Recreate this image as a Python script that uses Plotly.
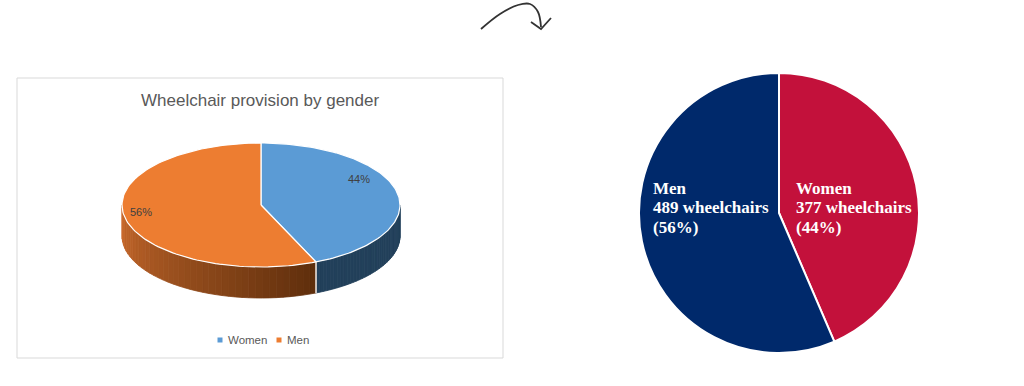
import math
import plotly.graph_objects as go

# ---------------- data ----------------
categories = ["Women", "Men"]
counts = [377, 489]
left_colors_top = ["#5b9bd5", "#ed7d31"]
right_colors = ["#c3113b", "#00296b"]
title_left = "Wheelchair provision by gender"
unit = "wheelchairs"

total = sum(counts)
shares = [c / total for c in counts]
pct_labels = [f"{round(s * 100)}%" for s in shares]

W, H = 1024, 386
fig = go.Figure()

# ---------------- left: Excel-style 3D pie drawn on a pixel-space xy axis ----------------
cx, cy, rx, ry, depth = 261, 205, 139, 62, 31


def top_pt(theta_deg):
    t = math.radians(theta_deg)
    return cx + rx * math.sin(t), cy - ry * math.cos(t)


angles = []
start = 0.0
for s in shares:
    angles.append((start, start + s * 360))
    start += s * 360


def arc(a0, a1, n=80, dy=0.0):
    pts = []
    for i in range(n + 1):
        a = a0 + (a1 - a0) * i / n
        x, y = top_pt(a)
        pts.append((x, y + dy))
    return pts


def hex_mix(c1, c2, f):
    c1 = [int(c1[i:i + 2], 16) for i in (1, 3, 5)]
    c2 = [int(c2[i:i + 2], 16) for i in (1, 3, 5)]
    return "rgb(%d,%d,%d)" % tuple(round(a + (b - a) * f) for a, b in zip(c1, c2))


side_styles = [("#22405a", "#22405a"), ("#5e2e0c", "#cb6b2d")]
for i, (a0, a1) in enumerate(angles):
    s0, s1 = max(a0, 90), min(a1, 270)
    if s1 <= s0:
        continue
    nstrip = 40
    for k in range(nstrip):
        b0 = s0 + (s1 - s0) * k / nstrip
        b1 = s0 + (s1 - s0) * (k + 1) / nstrip
        f = (k + 0.5) / nstrip
        col = hex_mix(side_styles[i][0], side_styles[i][1], f if i == 1 else 0)
        up = arc(b0, b1, 4)
        dn = arc(b1, b0, 4, depth)
        pts = up + dn + [up[0]]
        fig.add_trace(go.Scatter(x=[p[0] for p in pts], y=[p[1] for p in pts], mode="lines",
                                 fill="toself", fillcolor=col, line=dict(width=0.8, color=col),
                                 hoverinfo="skip", showlegend=False))
    for a in (a0, a1):
        if 90 <= a <= 270:
            x, y = top_pt(a)
            fig.add_trace(go.Scatter(x=[x, x], y=[y, y + depth], mode="lines",
                                     line=dict(color="white", width=1.2),
                                     hoverinfo="skip", showlegend=False))

# top faces
for i, (a0, a1) in enumerate(angles):
    pts = [(cx, cy)] + arc(a0, a1, 120) + [(cx, cy)]
    fig.add_trace(go.Scatter(x=[p[0] for p in pts], y=[p[1] for p in pts], mode="lines",
                             fill="toself", fillcolor=left_colors_top[i],
                             line=dict(color="white", width=1.2),
                             hoverinfo="skip", showlegend=False))

label_radius = [0.72, 0.88]
label_dy = [-17, -4]
for i, (a0, a1) in enumerate(angles):
    am = math.radians((a0 + a1) / 2)
    x = cx + rx * label_radius[i] * math.sin(am)
    y = cy - ry * label_radius[i] * math.cos(am) + label_dy[i]
    fig.add_annotation(x=x, y=y, xref="x", yref="y", text=pct_labels[i], showarrow=False,
                       font=dict(family="Liberation Sans, Arial", size=11, color="#404040"))

fig.add_shape(type="rect", x0=17, y0=78, x1=503, y1=358, xref="x", yref="y",
              line=dict(color="#d9d9d9", width=1), fillcolor="rgba(0,0,0,0)", layer="below")
fig.add_annotation(x=260, y=100, xref="x", yref="y", text=title_left, showarrow=False,
                   font=dict(family="Liberation Sans, Arial", size=17, color="#595959"))

leg_x = [220, 279]
for i, name in enumerate(categories):
    fig.add_trace(go.Scatter(x=[leg_x[i]], y=[340], mode="markers",
                             marker=dict(symbol="square", size=5, color=left_colors_top[i]),
                             hoverinfo="skip", showlegend=False))
    fig.add_annotation(x=leg_x[i] + 6, y=340, xref="x", yref="y", text=name, showarrow=False,
                       xanchor="left", font=dict(family="Liberation Sans, Arial", size=11.5, color="#595959"))

# hand-drawn arrow
arrow_x = [481, 500, 518, 530, 538, 541]
arrow_y = [29, 14, 5, 4, 12, 27]
fig.add_trace(go.Scatter(x=arrow_x, y=arrow_y, mode="lines",
                         line=dict(color="#333333", width=1.8, shape="spline"),
                         hoverinfo="skip", showlegend=False))
fig.add_trace(go.Scatter(x=[531, 541, 551], y=[22, 29, 18], mode="lines",
                         line=dict(color="#333333", width=1.8), hoverinfo="skip", showlegend=False))

# ---------------- right: flat pie ----------------
pcx, pcy, pr = 779, 213, 140
fig.add_trace(go.Pie(labels=categories, values=counts, sort=False, direction="clockwise", rotation=0,
                     marker=dict(colors=right_colors, line=dict(color="white", width=2)),
                     textinfo="none", hoverinfo="label+value+percent", showlegend=False,
                     domain=dict(x=[(pcx - pr) / W, (pcx + pr) / W],
                                 y=[1 - (pcy + pr) / H, 1 - (pcy - pr) / H])))

text_left = [794, 651]
for i, name in enumerate(categories):
    lines = [name, f"{counts[i]} {unit}", f"({pct_labels[i]})"]
    for j, ln in enumerate(lines):
        fig.add_annotation(x=text_left[i], y=188 + 19.5 * j, xref="x", yref="y", text=f"<b>{ln}</b>",
                           showarrow=False, xanchor="left",
                           font=dict(family="Liberation Serif, Times New Roman", size=17, color="white"))

fig.update_layout(
    width=W, height=H, margin=dict(l=0, r=0, t=0, b=0),
    paper_bgcolor="white", plot_bgcolor="white",
    xaxis=dict(range=[0, W], visible=False, domain=[0, 1], fixedrange=True),
    yaxis=dict(range=[H, 0], visible=False, domain=[0, 1], fixedrange=True),
)
fig.write_html("out.html", config={"displayModeBar": False},
               post_script="document.body.style.margin='0px';document.body.style.overflow='hidden';")
